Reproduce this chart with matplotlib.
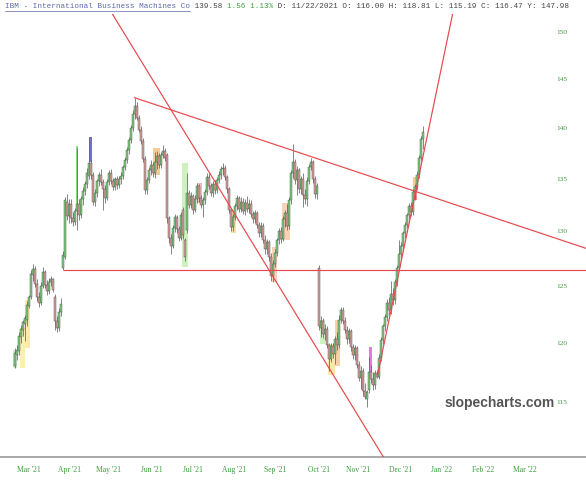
import matplotlib
matplotlib.use("Agg")
import matplotlib.pyplot as plt
from matplotlib.ticker import NullLocator
from matplotlib.lines import Line2D
import numpy as np

# ---------------- data ----------------
opens = [118.0, 118.9, 119.3, 120.5, 121.1, 121.6, 122.0, 123.2, 124.0, 126.0,
         126.5, 125.2, 124.0, 123.5, 125.0, 126.2, 125.1, 124.5, 125.3, 125.6,
         124.0, 121.9, 121.3, 122.7, 126.6, 127.6, 132.8, 131.4, 132.6, 131.2,
         130.9, 131.9, 132.6, 131.5, 133.0, 133.8, 134.5, 135.3, 136.5, 135.4,
         132.8, 133.6, 134.8, 135.4, 134.7, 134.0, 133.1, 134.7, 135.5, 134.8,
         134.2, 135.0, 134.4, 135.0, 135.3, 136.1, 136.8, 137.8, 138.8, 140.0,
         141.4, 142.2, 141.0, 139.8, 138.7, 136.9, 133.9, 134.9, 135.8, 136.3,
         135.5, 136.6, 137.2, 136.3, 137.3, 137.7, 137.3, 131.2, 129.4, 128.6,
         130.3, 131.3, 130.2, 129.4, 132.0, 129.2, 130.1, 133.6, 132.5, 133.3,
         132.0, 133.0, 134.3, 133.1, 132.5, 132.9, 133.7, 135.2, 134.3, 133.6,
         134.5, 133.9, 134.9, 135.4, 135.9, 136.0, 135.2, 134.0, 132.0, 130.4,
         131.3, 132.4, 133.1, 132.1, 132.8, 131.9, 132.7, 132.1, 132.6, 131.6,
         131.1, 131.7, 130.6, 129.8, 130.5, 129.2, 128.3, 129.0, 127.6, 125.9,
         127.0, 128.0, 129.2, 130.0, 129.3, 131.1, 131.7, 130.5, 132.9, 135.5,
         136.6, 134.9, 135.8, 134.0, 135.0, 133.4, 133.0, 134.8, 136.1, 136.6,
         135.0, 133.5, 126.6, 121.3, 121.9, 120.7, 121.2, 119.8, 118.6, 119.7,
         119.0, 120.3, 119.8, 122.0, 122.8, 121.9, 121.1, 120.3, 121.0, 119.6,
         118.9, 119.5, 118.1, 117.0, 117.6, 115.9, 115.2, 116.0, 117.5, 116.9,
         116.4, 117.4, 117.1, 118.7, 120.2, 121.4, 122.2, 123.5, 122.8, 124.3,
         123.7, 125.3, 126.6, 127.9, 128.6, 129.8, 130.6, 131.5, 132.4, 131.8,
         133.7, 134.2, 135.4, 137.0, 138.9]
highs = [119.5, 119.8, 120.9, 121.5, 122.0, 122.4, 123.6, 124.2, 126.4, 127.0,
         126.8, 125.6, 124.4, 125.3, 126.7, 126.4, 125.5, 125.7, 125.9, 125.7,
         124.3, 122.3, 123.0, 123.9, 128.2, 133.2, 133.5, 133.0, 133.0, 131.8,
         132.2, 138.0, 133.0, 133.3, 134.2, 134.8, 136.0, 139.0, 136.8, 135.6,
         134.0, 135.0, 135.6, 135.9, 135.0, 134.4, 135.0, 135.8, 135.9, 135.1,
         135.2, 135.3, 135.3, 135.6, 136.3, 137.1, 138.1, 139.1, 140.3, 141.8,
         143.1, 142.6, 141.3, 140.2, 139.0, 137.2, 135.2, 136.1, 136.8, 136.6,
         137.6, 137.7, 137.5, 137.6, 138.3, 138.0, 137.5, 131.4, 129.7, 130.6,
         131.6, 131.5, 130.5, 131.8, 132.3, 129.4, 135.5, 133.9, 133.7, 133.5,
         133.4, 134.6, 134.5, 133.4, 133.2, 134.0, 135.5, 135.5, 134.6, 134.8,
         134.9, 135.2, 135.7, 136.2, 136.5, 136.3, 135.4, 134.2, 132.2, 131.6,
         132.7, 133.4, 133.3, 133.2, 133.1, 133.0, 133.3, 133.0, 132.9, 131.9,
         132.0, 131.9, 130.9, 130.9, 130.8, 129.6, 129.3, 129.2, 128.0, 127.3,
         128.3, 129.4, 130.3, 130.4, 131.4, 132.0, 132.6, 133.2, 135.8, 138.4,
         136.9, 136.2, 136.0, 135.3, 135.5, 134.0, 135.2, 136.4, 137.0, 136.8,
         135.3, 134.6, 126.9, 122.3, 122.1, 121.6, 121.4, 120.0, 120.0, 120.0,
         120.6, 120.9, 122.4, 123.1, 123.1, 122.2, 121.4, 121.3, 121.2, 119.9,
         119.8, 119.7, 118.4, 118.0, 117.8, 116.6, 116.0, 118.8, 118.1, 117.5,
         117.7, 117.7, 119.0, 120.5, 121.6, 122.5, 123.8, 124.0, 125.4, 124.8,
         125.6, 126.9, 129.2, 129.0, 130.0, 130.9, 131.7, 132.7, 132.8, 134.0,
         134.5, 135.7, 137.3, 139.2, 140.2]
lows = [117.8, 118.5, 118.9, 120.0, 120.6, 120.1, 121.4, 123.0, 123.8, 125.4,
        124.9, 123.6, 123.1, 123.3, 124.8, 124.8, 124.2, 124.3, 125.0, 124.4,
        121.1, 120.9, 121.0, 122.3, 126.45, 127.4, 131.0, 130.8, 130.8, 130.5,
        130.6, 130.1, 131.0, 131.2, 132.5, 133.4, 134.1, 135.0, 135.0, 132.5,
        132.4, 133.2, 134.3, 134.4, 132.0, 132.7, 132.9, 134.4, 134.5, 133.9,
        133.9, 134.0, 134.1, 134.5, 135.0, 135.8, 136.5, 137.4, 138.5, 139.7,
        140.9, 140.8, 139.6, 138.4, 136.6, 133.5, 133.5, 134.6, 135.4, 135.2,
        135.1, 135.9, 136.0, 136.0, 137.0, 136.7, 130.8, 128.9, 127.9, 128.4,
        129.9, 129.8, 129.1, 129.2, 129.3, 127.2, 129.8, 132.2, 132.2, 131.6,
        131.8, 132.7, 132.8, 132.2, 131.3, 132.6, 133.4, 134.0, 133.3, 133.2,
        133.5, 133.6, 134.6, 135.0, 135.4, 134.9, 133.6, 131.7, 130.0, 130.0,
        131.0, 132.0, 131.8, 131.8, 131.6, 131.5, 131.8, 131.7, 131.3, 130.8,
        130.8, 130.3, 129.5, 129.5, 128.9, 127.9, 127.9, 127.2, 125.4, 125.3,
        126.7, 127.7, 128.8, 128.9, 129.1, 130.4, 130.1, 130.2, 132.6, 135.1,
        134.5, 133.4, 133.6, 133.5, 132.3, 132.6, 132.4, 134.5, 135.8, 134.6,
        133.1, 133.0, 121.1, 120.5, 120.4, 120.2, 119.5, 117.6, 118.3, 118.7,
        118.2, 119.4, 119.5, 121.7, 121.6, 120.8, 119.9, 120.0, 119.3, 118.6,
        118.5, 117.8, 116.7, 116.1, 115.5, 115.2, 114.6, 115.7, 116.6, 116.0,
        116.1, 117.0, 116.9, 118.4, 119.9, 121.0, 121.9, 122.4, 122.5, 123.3,
        123.4, 125.0, 126.3, 127.5, 128.3, 129.4, 130.3, 131.1, 131.4, 131.5,
        132.9, 133.9, 135.1, 136.7, 137.9]
closes = [119.1, 119.4, 120.6, 121.2, 121.8, 122.1, 123.3, 124.0, 126.1, 126.5,
          125.2, 124.0, 123.5, 125.0, 126.2, 125.1, 124.5, 125.3, 125.6, 124.6,
          121.9, 121.3, 122.7, 123.4, 127.8, 132.9, 131.4, 132.6, 131.2, 130.9,
          131.9, 132.6, 131.5, 133.0, 133.8, 134.5, 135.5, 136.5, 135.4, 132.8,
          133.6, 134.8, 135.4, 134.7, 134.0, 133.1, 134.7, 135.5, 134.8, 134.2,
          135.0, 134.4, 135.0, 135.3, 136.1, 136.8, 137.8, 138.8, 140.0, 141.4,
          142.2, 141.0, 139.8, 138.7, 136.9, 133.9, 134.9, 135.8, 136.3, 135.5,
          136.6, 137.2, 136.3, 137.3, 137.7, 137.0, 131.2, 129.4, 128.6, 130.3,
          131.3, 130.2, 129.4, 131.5, 129.6, 127.6, 133.6, 132.5, 133.3, 132.0,
          133.0, 134.3, 133.1, 132.5, 132.9, 133.7, 135.2, 134.3, 133.6, 134.5,
          133.9, 134.9, 135.4, 135.9, 136.0, 135.2, 134.0, 132.0, 130.4, 131.3,
          132.4, 133.1, 132.1, 132.8, 131.9, 132.7, 132.1, 132.6, 131.6, 131.1,
          131.7, 130.6, 129.8, 130.5, 129.2, 128.3, 129.0, 127.6, 125.9, 127.0,
          128.0, 129.2, 130.0, 129.3, 131.1, 131.7, 130.5, 132.9, 135.5, 136.6,
          134.9, 135.8, 134.0, 135.0, 133.4, 133.0, 134.8, 136.1, 136.6, 135.0,
          133.5, 134.3, 121.4, 121.9, 120.7, 121.2, 119.8, 118.6, 119.7, 119.0,
          120.3, 119.8, 122.0, 122.8, 121.9, 121.1, 120.3, 121.0, 119.6, 118.9,
          119.5, 118.1, 117.0, 117.6, 115.9, 115.4, 115.8, 117.5, 116.9, 116.4,
          117.4, 117.1, 118.7, 120.2, 121.4, 122.2, 123.5, 122.8, 124.3, 123.7,
          125.3, 126.6, 127.9, 128.6, 129.8, 130.6, 131.5, 132.4, 131.8, 133.7,
          134.2, 135.4, 137.0, 138.9, 139.58]

# pattern highlight boxes (candle index centre, width in candles, low, high, colour)
hl_center = [0, 3.75, 6.25, 31, 37.6, 70.75, 85, 92.25, 109.25, 129.75, 135.5,
             153.75, 158.25, 161.25, 177.5, 200, 200.3]
hl_width = [2, 2.5, 2.5, 1.0, 1.3, 3.5, 3, 2.5, 2.5, 2.5, 4, 2.5, 3.5, 2.5, 1.5, 2, 1.2]
hl_low = [117.8, 117.8, 119.5, 132.6, 136.6, 135.4, 126.7, 132.7, 129.8, 125.3, 129.2,
          119.9, 117.2, 118.0, 117.2, 133.2, 132.9]
hl_high = [119.4, 121.3, 123.7, 138.2, 139.1, 138.0, 136.5, 134.6, 132.0, 128.5, 132.7,
           122.0, 119.9, 122.0, 119.6, 135.2, 134.1]
hl_color = ["#cdeecd", "#fbf0b4", "#fbeaa8", "#86dc86", "#6f6fd6", "#f7cc98", "#cdf2bd",
            "#f3bcbc", "#f7e2a2", "#f7d2b4", "#f7d2b4", "#cdf0c4", "#fbe8aa", "#f7cfa6",
            "#e27ae2", "#f7cc98", "#ef8a8a"]

# trend lines: (index, price) endpoints
trend_lines = [
    [(44.4, 153.49), (184.5, 110.45)],
    [(59.5, 143.1), (290.0, 128.13)],
    [(24.0, 126.45), (290.0, 126.45)],
    [(181.25, 117.2), (220.25, 153.49)],
]

y_ticks = [115, 120, 125, 130, 135, 140, 145, 150]
month_labels = ["Mar '21", "Apr '21", "May '21", "Jun '21", "Jul '21", "Aug '21", "Sep '21",
                "Oct '21", "Nov '21", "Dec '21", "Jan '22", "Feb '22", "Mar '22"]
month_pos = [7, 27.25, 47, 68.5, 89, 109.5, 130.25, 151.75, 171.5, 193, 213.5, 234, 255]

header_title = "IBM - International Business Machines Co"
header_last = " 139.58 "
header_change = "1.56 1.13%"
header_ohlc = " D: 11/22/2021 O: 116.00 H: 118.81 L: 115.19 C: 116.47 Y: 147.98"

# ---------------- figure ----------------
W, H = 586, 480
fig = plt.figure(figsize=(W / 100, H / 100), dpi=100)
fig.patch.set_facecolor("white")
ax_top, ax_bot = 14, 457
ax = fig.add_axes([0, 1 - ax_bot / H, 1, (ax_bot - ax_top) / H])
ax.set_facecolor("white")
ax.set_yscale("log")
ax.set_xlim(-7.5, 285.5)
ax.set_ylim(110.53, 151.95)

o = np.array(opens); h = np.array(highs); l = np.array(lows); c = np.array(closes)
idx = np.arange(len(c))
up = c >= o

# highlights
ax.bar(hl_center, np.array(hl_high) - np.array(hl_low), bottom=hl_low, width=hl_width,
       color=hl_color, linewidth=0, zorder=1)

# wicks & bodies
ax.vlines(idx, l, h, color="#666666", lw=0.55, zorder=3)
body = np.abs(c - o)
ax.bar(idx[up], body[up], bottom=o[up], width=0.9, color="#7ccd7c",
       edgecolor="#4a4a4a", linewidth=0.3, zorder=4)
ax.bar(idx[~up], body[~up], bottom=c[~up], width=0.9, color="#dc9c9c",
       edgecolor="#4a4a4a", linewidth=0.3, zorder=4)

# trend lines
for (x0, y0), (x1, y1) in trend_lines:
    ax.plot([x0, x1], [y0, y1], color="#e5484d", lw=0.85, zorder=5, solid_capstyle="butt")

# axes styling
for s in ["top", "left", "right"]:
    ax.spines[s].set_visible(False)
ax.spines["bottom"].set_color("#a8a8a8")
ax.spines["bottom"].set_linewidth(1.4)

ax.yaxis.set_ticks_position("right")
ax.set_yticks(y_ticks, labels=[str(v) for v in y_ticks])
ax.yaxis.set_minor_locator(NullLocator())
ax.tick_params(axis="y", which="both", length=0, pad=-21, labelsize=5.3,
               labelcolor="#3c9a3c")
ax.set_xticks(month_pos, labels=month_labels)
ax.tick_params(axis="x", length=0, pad=6.5, labelsize=5.5, labelcolor="#3c9a3c")
for t in ax.get_xticklabels() + ax.get_yticklabels():
    t.set_fontfamily("Liberation Serif")

# header
cw = 4.62  # px per monospace character
x0 = 5
y_head = 1 - 7 / H
def put(txt, col, start):
    fig.text((x0 + start * cw) / W, y_head, txt, family="Liberation Mono", fontsize=5.54,
             color=col, va="center", ha="left")
put(header_title, "#5b68a8", 0)
n = len(header_title)
put(header_last, "#444444", n)
n += len(header_last)
put(header_change, "#3fa03f", n)
n += len(header_change)
put(header_ohlc, "#444444", n)
fig.add_artist(Line2D([x0 / W, (x0 + len(header_title) * cw) / W], [1 - 11 / H, 1 - 11 / H],
                      color="#5b68a8", lw=0.5))

# watermark
fig.text(500 / W, 1 - 403 / H, "slopecharts.com", ha="center", va="center",
         fontsize=10, fontweight="bold", color="#555555", family="Liberation Sans")

fig.savefig("out.png", dpi=100)
